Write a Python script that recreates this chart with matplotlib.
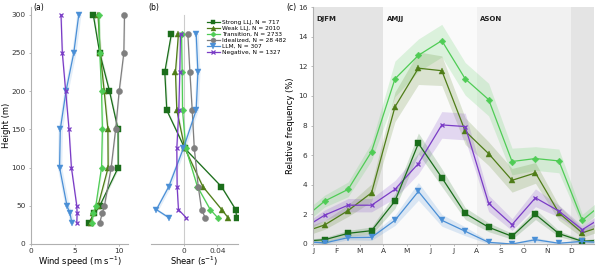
import numpy as np
import matplotlib
matplotlib.use("Agg")
import matplotlib.pyplot as plt

plt.rcParams['font.family'] = ['DejaVu Sans']

# ---------------- data ----------------
heights = [28, 40, 50, 100, 150, 200, 250, 300]
shear_heights = [34, 45, 75, 125, 175, 225, 275]
names = ["Strong LLJ, N = 717", "Weak LLJ, N = 2010", "Transition, N = 2733",
         "Idealized, N = 28 482", "LLM, N = 307", "Negative, N = 1327"]

ws_strong = [6.56, 7.18, 7.8, 9.89, 9.87, 8.9, 7.79, 7.06]
ws_weak = [6.8, 7.05, 7.6, 8.75, 8.72, 8.3, 7.85, 7.6]
ws_trans = [6.9, 7.05, 7.35, 8.0, 8.1, 8.0, 7.8, 7.7]
ws_ideal = [7.8, 8.07, 8.33, 9.09, 9.6, 10.0, 10.53, 10.6]
ws_llm = [4.62, 4.43, 4.08, 3.24, 3.32, 3.97, 4.85, 5.42]
ws_neg = [5.19, 5.23, 5.19, 4.58, 4.31, 3.93, 3.55, 3.40]
ws_err = [0.12, 0.12, 0.12, 0.08, 0.25, 0.08]

sh_strong = [0.0634, 0.0622, 0.045, 0.0008, -0.021, -0.0234, -0.0154]
sh_weak = [0.0533, 0.0453, 0.0226, 0.0008, -0.0089, -0.0105, -0.0069]
sh_trans = [0.0408, 0.0315, 0.016, 0.002, -0.002, -0.0024, -0.0032]
sh_ideal = [0.0255, 0.021, 0.017, 0.0122, 0.0097, 0.0069, 0.0044]
sh_llm = [-0.0178, -0.0335, -0.0186, -0.001, 0.0145, 0.0166, 0.0145]
sh_neg = [0.0028, -0.0069, -0.0085, -0.0089, -0.0065, -0.0053, -0.0044]
sh_err = [0.0012, 0.0012, 0.0012, 0.0006, 0.0025, 0.0008]

months = ["J", "F", "M", "A", "M", "J", "J", "A", "S", "O", "N", "D"]
fr_strong = [0.29, 0.72, 0.9, 2.9, 6.79, 4.48, 2.06, 1.13, 0.52, 2.0, 0.7, 0.18]
fr_weak = [1.29, 2.26, 3.46, 9.26, 11.87, 11.7, 7.62, 6.1, 4.3, 4.8, 2.1, 0.75]
fr_trans = [2.9, 3.69, 6.24, 11.15, 12.74, 13.73, 11.15, 9.75, 5.57, 5.77, 5.61, 1.6]
fr_llm = [0.07, 0.43, 0.45, 1.6, 3.55, 1.6, 0.86, 0.11, 0.0, 0.29, 0.05, 0.18]
fr_neg = [1.95, 2.62, 2.62, 3.69, 5.43, 8.04, 7.93, 2.74, 1.31, 3.12, 2.22, 0.97]

er_strong = [0.15, 0.2, 0.25, 0.5, 0.7, 0.6, 0.4, 0.3, 0.2, 0.35, 0.2, 0.1]
er_weak = [0.3, 0.4, 0.6, 1.0, 1.1, 1.0, 0.9, 0.8, 0.8, 0.7, 0.5, 0.3]
er_trans = [0.4, 0.5, 0.6, 1.2, 1.1, 1.1, 1.1, 1.1, 0.9, 0.8, 0.8, 0.4]
er_llm = [0.1, 0.15, 0.2, 0.35, 0.6, 0.4, 0.3, 0.1, 0.05, 0.15, 0.05, 0.1]
er_neg = [0.35, 0.45, 0.45, 0.6, 0.7, 0.9, 0.9, 0.55, 0.4, 0.6, 0.4, 0.25]

seasons = ["DJFM", "AMJJ", "ASON"]

# ---------------- styles ----------------
colors = ["#1b6e1b", "#4f7d18", "#4fcc55", "#7f7f7f", "#4a8fd6", "#7a3cc6"]
markers = ["s", "^", "D", "o", "v", "x"]
msizes = [4.0, 4.4, 3.4, 4.4, 4.6, 3.4]
axcol = "#b0b0b0"
tickfs = 5.3
labfs = 6.0

fig = plt.figure(figsize=(6, 2.7), dpi=100)
axa = fig.add_axes([0.0517, 0.0963, 0.1616, 0.8777])
axb = fig.add_axes([0.2517, 0.0963, 0.145, 0.8777])
axc = fig.add_axes([0.5217, 0.0963, 0.4683, 0.8777])

def style(ax):
    for s in ["top", "right"]:
        ax.spines[s].set_visible(False)
    for s in ["left", "bottom"]:
        ax.spines[s].set_color(axcol)
        ax.spines[s].set_linewidth(0.8)
    ax.tick_params(labelsize=tickfs, length=1.5, width=0.6, color=axcol, pad=1.2,
                   labelcolor="#333333")
    ax.tick_params(axis="y", pad=2.5)

def mk(i):
    return dict(marker=markers[i], ms=msizes[i], mfc=colors[i], mec=colors[i],
                mew=0.9 if markers[i] == "x" else 0.3)

# ---------- panel a ----------
ws = [ws_strong, ws_weak, ws_trans, ws_ideal, ws_llm, ws_neg]
for i, v in enumerate(ws):
    v = np.array(v)
    axa.fill_betweenx(heights, v - ws_err[i], v + ws_err[i], color=colors[i],
                      alpha=0.15, lw=0)
    axa.plot(v, heights, color=colors[i], lw=0.9, **mk(i))
axa.set_xlim(0, 11)
axa.set_ylim(0, 310)
axa.set_xticks([0, 5, 10])
axa.set_yticks(range(0, 301, 50))
style(axa)
axa.set_xlabel("Wind speed (m s$^{-1}$)", fontsize=labfs, labelpad=0.5)
axa.set_ylabel("Height (m)", fontsize=labfs, labelpad=0.5)
axa.text(0.02, 1.0, "(a)", transform=axa.transAxes, fontsize=5.5, va="center")

# ---------- panel b ----------
sh = [sh_strong, sh_weak, sh_trans, sh_ideal, sh_llm, sh_neg]
axb.axvline(0, ymin=0, ymax=300 / 310, color="#cccccc", lw=0.8, zorder=0)
handles = []
for i, v in enumerate(sh):
    v = np.array(v)
    axb.fill_betweenx(shear_heights, v - sh_err[i], v + sh_err[i], color=colors[i],
                      alpha=0.15, lw=0)
    h, = axb.plot(v, shear_heights, color=colors[i], lw=0.9, label=names[i], **mk(i))
    handles.append(h)
axb.set_xlim(-0.04, 0.065)
axb.set_ylim(0, 310)
axb.set_xticks([0, 0.04])
axb.set_xticklabels(["0", "0.04"])
style(axb)
axb.spines["left"].set_visible(False)
axb.set_yticks([])
axb.set_xlabel("Shear (s$^{-1}$)", fontsize=labfs, labelpad=0.5)
axb.text(-0.03, 1.0, "(b)", transform=axb.transAxes, fontsize=5.5, va="center")

fig.legend(handles=handles, loc="upper left", bbox_to_anchor=(0.345, 0.927),
           fontsize=4.2, frameon=False, handlelength=2.2, handletextpad=0.3,
           labelspacing=0.15, borderpad=0, borderaxespad=0, markerscale=0.8)

# ---------- panel c ----------
axc.axvspan(0, 3, color="#e4e4e4", lw=0, zorder=0)
axc.axvspan(3, 7, color="#fafafa", lw=0, zorder=0)
axc.axvspan(7, 11, color="#f1f1f1", lw=0, zorder=0)
axc.axvspan(11, 12, color="#e4e4e4", lw=0, zorder=0)
for k, s in enumerate(seasons):
    axc.text([0, 3, 7][k] + 0.15, 15.2, s, fontsize=5, fontweight="bold",
             va="center", color="#222222")

fr = [fr_strong, fr_weak, fr_trans, None, fr_llm, fr_neg]
er = [er_strong, er_weak, er_trans, None, er_llm, er_neg]
xm = np.arange(12) + 0.5
xw = np.concatenate([[xm[0] - 1], xm, [xm[-1] + 1]])
for i in [2, 1, 5, 0, 4]:
    v = np.array(fr[i])
    e = np.array(er[i])
    vw = np.concatenate([[v[-1]], v, [v[0]]])
    ew = np.concatenate([[e[-1]], e, [e[0]]])
    axc.fill_between(xw, vw - ew, vw + ew, color=colors[i], alpha=0.18, lw=0)
    axc.plot(xw, vw, color=colors[i], lw=0.9)
    axc.plot(xm, v, color=colors[i], lw=0, **mk(i))
axc.set_xlim(0, 12)
axc.set_ylim(0, 16)
axc.set_xticks(range(12))
axc.set_xticklabels(months)
axc.set_yticks(range(0, 17, 2))
style(axc)
axc.set_ylabel("Relative frequency (%)", fontsize=labfs, labelpad=2)
axc.text(-0.095, 1.0, "(c)", transform=axc.transAxes, fontsize=5.5, va="center")

fig.savefig("out.png", dpi=100)
